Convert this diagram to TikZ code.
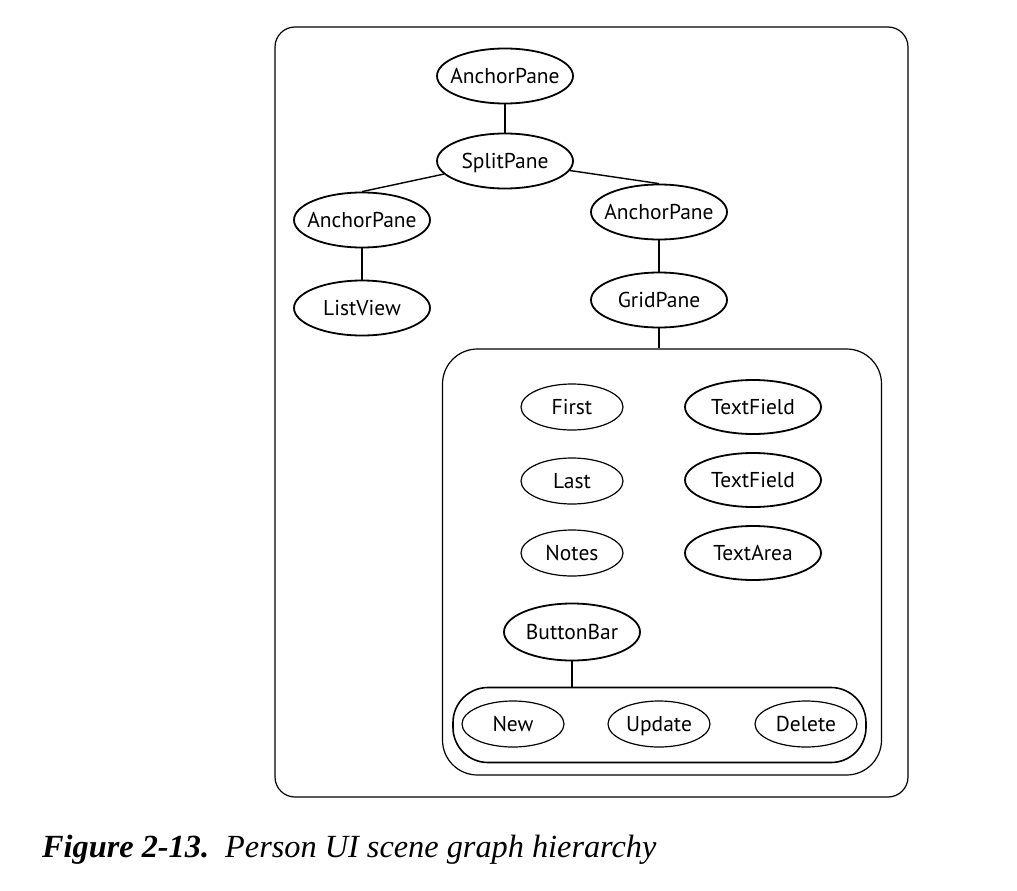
\documentclass[tikz,border=0pt]{standalone}
\usepackage{fontspec}
\setmainfont{Liberation Serif}
\newfontfamily\nodefont{PT Sans}
\usetikzlibrary{shapes.geometric}
\newcommand\lbl[1]{\makebox[60pt]{#1}}
\tikzset{
  el/.style={ellipse, draw, line width=1.8pt, inner sep=0pt, text height=17pt, text depth=2pt, font=\nodefont\fontsize{21.5}{24}\selectfont},
  big/.style={el, minimum width=136pt, minimum height=55pt},
  small/.style={el, line width=1.2pt, minimum width=102pt, minimum height=46pt},
  mid/.style={el, minimum width=136pt, minimum height=54pt},
  frame/.style={draw, line width=1.2pt},
  conn/.style={line width=1.4pt}
}
\begin{document}
\begin{tikzpicture}[x=1pt,y=-1pt]
\useasboundingbox (0,0) rectangle (1017,891);
% outer frame
\draw[frame, rounded corners=20pt] (275,27) rectangle (908,797);
% tree
\node[big] (ap0) at (505,76) {\lbl{AnchorPane}};
\node[big] (sp) at (505,161) {\lbl{SplitPane}};
\node[big] (apL) at (362,220) {\lbl{AnchorPane}};
\node[big] (lv) at (362,308) {\lbl{ListView}};
\node[big] (apR) at (659,212) {\lbl{AnchorPane}};
\node[big] (gp) at (659,300) {\lbl{GridPane}};
\draw[conn] (ap0) -- (sp);
\draw[conn] (sp) -- (apL.north);
\draw[conn] (sp) -- (apR.north);
\draw[conn] (apL) -- (lv);
\draw[conn] (apR) -- (gp);
% grid box
\node[frame, rounded corners=35pt, minimum width=439pt, minimum height=426pt, inner sep=0pt] (grid) at (662,562) {};
\draw[conn] (gp) -- (grid.north -| gp);
\node[small] (first) at (572,407) {\lbl{First}};
\node[mid] (tf1) at (753,407) {\lbl{TextField}};
\node[small] (last) at (572,481) {\lbl{Last}};
\node[mid] (tf2) at (753,480) {\lbl{TextField}};
\node[small] (notes) at (572,553) {\lbl{Notes}};
\node[mid] (ta) at (753,553) {\lbl{TextArea}};
\node[el, minimum width=136pt, minimum height=57pt] (bb) at (572,632) {\lbl{ButtonBar}};
% button bar box
\node[frame, line width=1.6pt, rounded corners=35pt, minimum width=413pt, minimum height=75pt, inner sep=0pt] (bar) at (659.5,725) {};
\draw[conn] (bb) -- (bar.north -| bb);
\node[small] (new) at (513,724) {\lbl{New}};
\node[small] (upd) at (659,724) {\lbl{Update}};
\node[small] (del) at (806,724) {\lbl{Delete}};
% caption
\node[anchor=base west, inner sep=0pt, font=\fontsize{32.3}{34}\selectfont] (cap) at (42,857) {\textbf{\textit{Figure 2-13.}}\hspace{0.5em}\textit{Person UI scene graph hierarchy}};
\end{tikzpicture}
\end{document}
